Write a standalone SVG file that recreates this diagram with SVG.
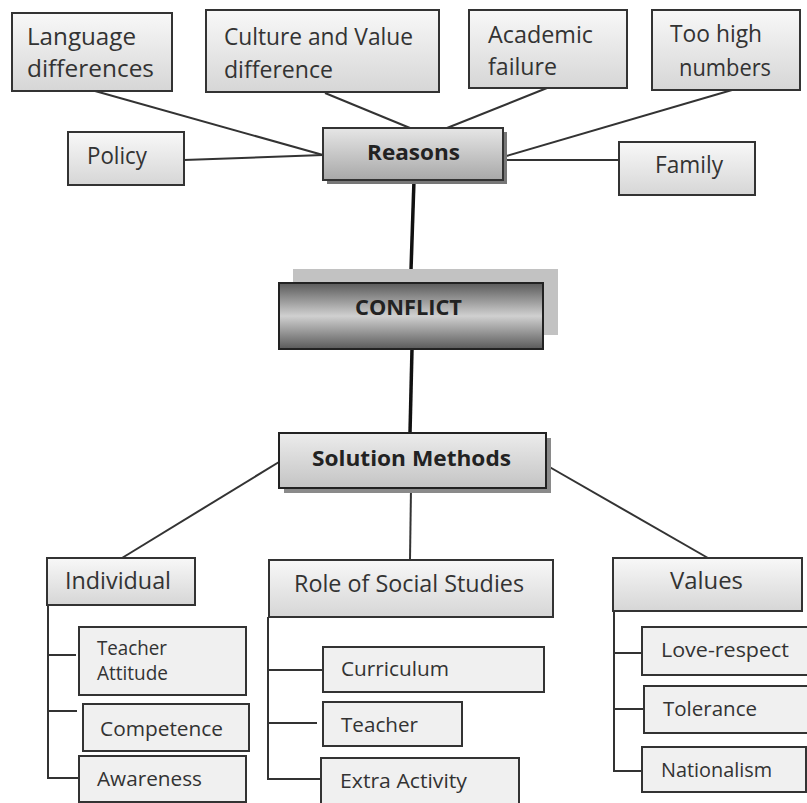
<svg xmlns="http://www.w3.org/2000/svg" width="807" height="803" viewBox="0 0 807 803">
<defs>
<linearGradient id="gTop" x1="0" y1="0" x2="0" y2="1">
<stop offset="0" stop-color="#f8f8f8"/><stop offset="1" stop-color="#d6d6d6"/>
</linearGradient>
<linearGradient id="gReasons" x1="0" y1="0" x2="0" y2="1">
<stop offset="0" stop-color="#e6e6e6"/><stop offset="1" stop-color="#a8a8a8"/>
</linearGradient>
<linearGradient id="gConflict" x1="0" y1="0" x2="0" y2="1">
<stop offset="0" stop-color="#5a5a5a"/><stop offset="0.5" stop-color="#d0d0d0"/><stop offset="1" stop-color="#5a5a5a"/>
</linearGradient>
<linearGradient id="gSol" x1="0" y1="0" x2="0" y2="1">
<stop offset="0" stop-color="#ececec"/><stop offset="1" stop-color="#c4c4c4"/>
</linearGradient>
<style>
.box{fill:url(#gTop);stroke:#333;stroke-width:2}
.child{fill:#f0f0f0;stroke:#333;stroke-width:2}
.t{font-family:"Open Sans","Liberation Sans",sans-serif;fill:#333;font-size:23px}
.c{font-family:"Open Sans","Liberation Sans",sans-serif;fill:#333;font-size:20px}
.b{font-family:"Open Sans","Liberation Sans",sans-serif;fill:#222;font-weight:bold;font-size:21px}
.ln{stroke:#333;stroke-width:2;fill:none}
.thick{stroke:#111;stroke-width:3.5;fill:none}
</style>
</defs>
<rect width="807" height="803" fill="#fff"/>
<g id="connectors">
<line class="ln" x1="95" y1="91" x2="323" y2="155"/>
<line class="ln" x1="325" y1="93" x2="410" y2="128"/>
<line class="ln" x1="547" y1="88" x2="447" y2="128"/>
<line class="ln" x1="732" y1="90" x2="503" y2="157"/>
<line class="ln" x1="184" y1="160" x2="323" y2="155"/>
<line class="ln" x1="503" y1="160" x2="619" y2="160"/>
<line class="thick" x1="414" y1="180" x2="411" y2="270"/>
<line class="thick" x1="412" y1="349" x2="410" y2="433"/>
<line class="ln" x1="279" y1="462" x2="122" y2="558"/>
<line class="ln" x1="411" y1="488" x2="410" y2="560"/>
<line class="ln" x1="546" y1="465" x2="708" y2="558"/>
<polyline class="ln" points="48,605 48,778 79,778"/>
<line class="ln" x1="48" y1="655" x2="76" y2="655"/>
<line class="ln" x1="48" y1="711" x2="77" y2="711"/>
<polyline class="ln" points="268,617 268,779 321,779"/>
<line class="ln" x1="268" y1="670" x2="323" y2="670"/>
<line class="ln" x1="268" y1="723" x2="317" y2="723"/>
<polyline class="ln" points="614,611 614,771 642,771"/>
<line class="ln" x1="614" y1="653" x2="642" y2="653"/>
<line class="ln" x1="614" y1="709" x2="644" y2="709"/>
</g>
<g id="language">
<rect class="box" x="12" y="13" width="160" height="78"/>
<text class="t" x="27" y="45" textLength="109" lengthAdjust="spacingAndGlyphs">Language</text>
<text class="t" x="27" y="77" textLength="127" lengthAdjust="spacingAndGlyphs">differences</text>
</g>
<g id="culture">
<rect class="box" x="206" y="10" width="233" height="82"/>
<text class="t" x="224" y="45" textLength="189" lengthAdjust="spacingAndGlyphs">Culture and Value</text>
<text class="t" x="224" y="78" textLength="109" lengthAdjust="spacingAndGlyphs">difference</text>
</g>
<g id="academic">
<rect class="box" x="469" y="10" width="158" height="78"/>
<text class="t" x="488" y="43" textLength="105" lengthAdjust="spacingAndGlyphs">Academic</text>
<text class="t" x="488" y="75" textLength="69" lengthAdjust="spacingAndGlyphs">failure</text>
</g>
<g id="toohigh">
<rect class="box" x="652" y="10" width="148" height="80"/>
<text class="t" x="670" y="42" textLength="92" lengthAdjust="spacingAndGlyphs">Too high</text>
<text class="t" x="679" y="76" textLength="92" lengthAdjust="spacingAndGlyphs">numbers</text>
</g>
<g id="policy">
<rect class="box" x="68" y="132" width="116" height="53"/>
<text class="t" x="87" y="164" textLength="60" lengthAdjust="spacingAndGlyphs">Policy</text>
</g>
<g id="reasons">
<rect x="327" y="132" width="180" height="52" fill="#777"/>
<rect x="323" y="128" width="180" height="52" fill="url(#gReasons)" stroke="#333" stroke-width="2"/>
<text class="b" x="367" y="160" font-size="20" textLength="93" lengthAdjust="spacingAndGlyphs">Reasons</text>
</g>
<g id="family">
<rect class="box" x="619" y="142" width="136" height="53"/>
<text class="t" x="655" y="173" textLength="68" lengthAdjust="spacingAndGlyphs">Family</text>
</g>
<g id="conflict">
<rect x="293" y="269" width="265" height="66" fill="#c2c2c2"/>
<rect x="279" y="283" width="264" height="66" fill="url(#gConflict)" stroke="#222" stroke-width="2"/>
<text class="b" x="355" y="315" textLength="107" lengthAdjust="spacingAndGlyphs">CONFLICT</text>
</g>
<g id="solution">
<rect x="284" y="438" width="267" height="55" fill="#8a8a8a"/>
<rect x="279" y="433" width="267" height="55" fill="url(#gSol)" stroke="#222" stroke-width="2"/>
<text class="b" x="312" y="466" font-size="22" textLength="199" lengthAdjust="spacingAndGlyphs">Solution Methods</text>
</g>
<g id="individual">
<rect class="box" x="47" y="558" width="148" height="47"/>
<text class="t" x="65" y="589" textLength="106" lengthAdjust="spacingAndGlyphs">Individual</text>
</g>
<g id="teacher-attitude">
<rect class="child" x="79" y="627" width="167" height="68"/>
<text class="c" x="97" y="655" textLength="70" lengthAdjust="spacingAndGlyphs">Teacher</text>
<text class="c" x="97" y="680" textLength="71" lengthAdjust="spacingAndGlyphs">Attitude</text>
</g>
<g id="competence">
<rect class="child" x="83" y="704" width="166" height="47"/>
<text class="c" x="100" y="736" textLength="123" lengthAdjust="spacingAndGlyphs">Competence</text>
</g>
<g id="awareness">
<rect class="child" x="79" y="756" width="167" height="46"/>
<text class="c" x="97" y="786" textLength="105" lengthAdjust="spacingAndGlyphs">Awareness</text>
</g>
<g id="role">
<rect class="box" x="269" y="560" width="284" height="57"/>
<text class="t" x="294" y="592" textLength="230" lengthAdjust="spacingAndGlyphs">Role of Social Studies</text>
</g>
<g id="curriculum">
<rect class="child" x="323" y="647" width="221" height="45"/>
<text class="c" x="341" y="676" textLength="108" lengthAdjust="spacingAndGlyphs">Curriculum</text>
</g>
<g id="teacher">
<rect class="child" x="323" y="702" width="139" height="44"/>
<text class="c" x="341" y="732" textLength="77" lengthAdjust="spacingAndGlyphs">Teacher</text>
</g>
<g id="extra">
<rect class="child" x="321" y="758" width="198" height="50"/>
<text class="c" x="340" y="788" textLength="127" lengthAdjust="spacingAndGlyphs">Extra Activity</text>
</g>
<g id="values">
<rect class="box" x="613" y="558" width="189" height="53"/>
<text class="t" x="670" y="589" textLength="73" lengthAdjust="spacingAndGlyphs">Values</text>
</g>
<g id="love">
<rect class="child" x="642" y="627" width="170" height="48"/>
<text class="c" x="661" y="657" textLength="128" lengthAdjust="spacingAndGlyphs">Love-respect</text>
</g>
<g id="tolerance">
<rect class="child" x="644" y="686" width="168" height="47"/>
<text class="c" x="663" y="716" textLength="94" lengthAdjust="spacingAndGlyphs">Tolerance</text>
</g>
<g id="nationalism">
<rect class="child" x="642" y="747" width="164" height="45"/>
<text class="c" x="661" y="777" textLength="111" lengthAdjust="spacingAndGlyphs">Nationalism</text>
</g>
</svg>
